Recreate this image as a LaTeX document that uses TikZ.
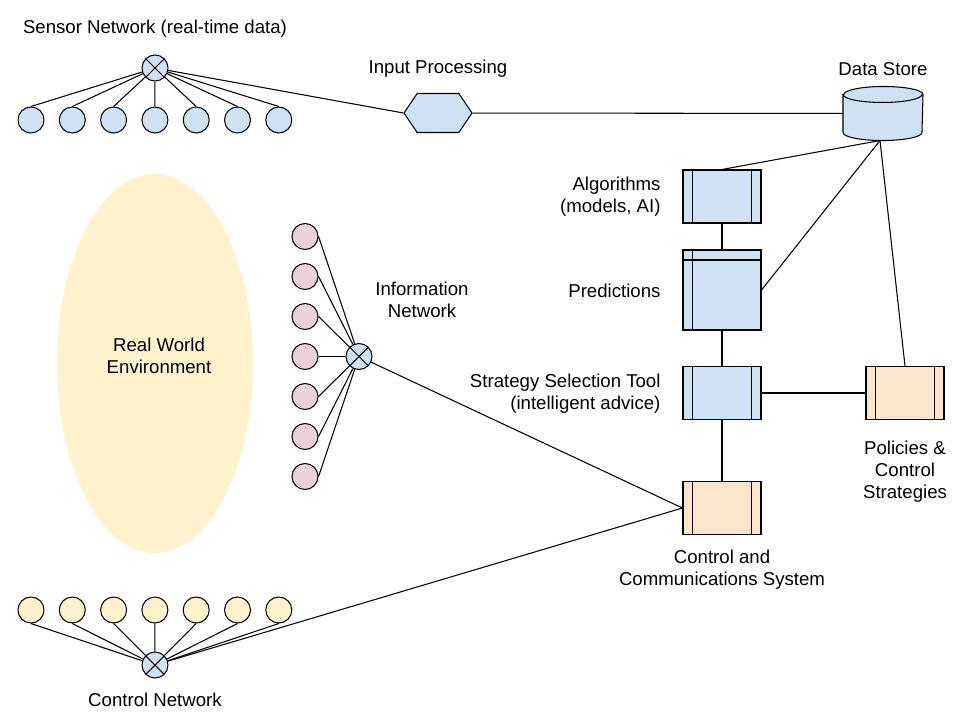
\documentclass[tikz,border=0pt]{standalone}
\usepackage{fontspec}
\setmainfont{Liberation Sans}
\usetikzlibrary{shapes.geometric, shapes.symbols}

\definecolor{boxblue}{HTML}{CFE2F3}
\definecolor{boxorange}{HTML}{FCE5CD}
\definecolor{dotpink}{HTML}{EAD1DC}
\definecolor{dotyellow}{HTML}{FFF2CC}

\tikzset{
  dot/.style={circle, draw, minimum size=0.52cm, inner sep=0pt},
  hub/.style={dot, fill=boxblue,
    path picture={
      \draw (path picture bounding box.north west) -- (path picture bounding box.south east);
      \draw (path picture bounding box.south west) -- (path picture bounding box.north east);
    }},
  procbox/.style={rectangle, draw, minimum width=1.56cm, minimum height=1.06cm, inner sep=0pt,
    path picture={
      \draw ([xshift=0.19cm]path picture bounding box.north west) -- ([xshift=0.19cm]path picture bounding box.south west);
      \draw ([xshift=-0.19cm]path picture bounding box.north east) -- ([xshift=-0.19cm]path picture bounding box.south east);
    }},
  storebox/.style={rectangle, draw, minimum width=1.56cm, minimum height=1.6cm, inner sep=0pt,
    path picture={
      \draw ([xshift=0.19cm]path picture bounding box.north west) -- ([xshift=0.19cm]path picture bounding box.south west);
      \draw ([yshift=-0.2cm]path picture bounding box.north west) -- ([yshift=-0.2cm]path picture bounding box.north east);
    }},
  lbl/.style={font=\fontsize{10.6pt}{12.6pt}\selectfont, inner sep=0pt},
}

\begin{document}
\begin{tikzpicture}[x=0.02cm, y=-0.02cm, line width=0.6pt]

    % Frame (pixel units, y down)
    \useasboundingbox (0,0) rectangle (960,720);

    \def\dotx{31}     % first dot, x
    \def\dotdx{41.3}  % dot spacing, x
    \def\infox{305}   % information dots, x
    \def\infoy{236.5} % first information dot, y
    \def\infody{40}   % dot spacing, y
    \def\cylrx{0.79cm} % data store, half width
    \def\cylry{0.16cm} % data store, lid

    % Real world
    \fill[dotyellow] (155,363.5) ellipse [x radius=1.96cm, y radius=3.79cm];
    \node[lbl, align=center] (world) at (159,356) {Real World\\Environment};

    % Sensor network
    \node[hub] (shub) at (155,68) {};
    \foreach \i in {0,...,6}{
        \node[dot, fill=boxblue] (s\i) at ({\dotx+\dotdx*\i},120) {};
        \draw (s\i.north) -- (shub);
    }
    \node[lbl] (slbl) at (155,29) {Sensor Network (real-time data)};

    % Input processing, data store
    \node[signal, signal to=west and east, signal pointer angle=112, draw, fill=boxblue,
          minimum width=1.36cm, minimum height=0.78cm, inner sep=0pt] (inproc) at (438,113) {};
    \node[lbl] (inlbl) at (438,69) {Input Processing};
    \node[rectangle, minimum width=1.58cm, minimum height=1.06cm, inner sep=0pt] (store) at (883,113.5) {};
    \filldraw[fill=boxblue] ([yshift=-\cylry]store.north west) -- ([yshift=\cylry]store.south west)
        arc[start angle=180, end angle=360, x radius=\cylrx, y radius=\cylry]
        -- ([yshift=-\cylry]store.north east)
        arc[start angle=0, end angle=180, x radius=\cylrx, y radius=\cylry] -- cycle;
    \draw ([yshift=-\cylry]store.north west) arc[start angle=180, end angle=360, x radius=\cylrx, y radius=\cylry];
    \node[lbl] (storelbl) at (883,69) {Data Store};

    \draw (shub) -- (inproc.west);
    \draw (inproc) -- (store);

    % Decision chain
    \node[procbox, fill=boxblue] (alg) at (722,196.5) {};
    \node[storebox, fill=boxblue] (pred) at (722,290) {};
    \node[procbox, fill=boxblue] (sst) at (722,393) {};
    \node[procbox, fill=boxorange] (ctrl) at (722,508) {};
    \node[procbox, fill=boxorange] (pol) at (905,393) {};

    \node[lbl, align=right, anchor=east] (alglbl) at (661,197) {Algorithms\\(models, AI)};
    \node[lbl, anchor=east] (predlbl) at (661,291) {Predictions};
    \node[lbl, align=right, anchor=east] (sstlbl) at (661,394) {Strategy Selection Tool\\(intelligent advice)};
    \node[lbl, align=center] (ctrllbl) at (722,570) {Control and\\Communications System};
    \node[lbl, align=center] (pollbl) at (905,472) {Policies \&\\Control\\Strategies};

    \draw (alg) -- (pred);
    \draw (pred) -- (sst);
    \draw (sst) -- (ctrl);
    \draw (sst) -- (pol);
    \draw ([xshift=-0.06cm]store.south) -- (alg.north);
    \draw ([xshift=-0.06cm]store.south) -- (pred.east);
    \draw ([xshift=-0.06cm]store.south) -- (pol.north);

    % Information network
    \node[hub] (ihub) at (359,356.5) {};
    \foreach \i in {0,...,6}{
        \node[dot, fill=dotpink] (i\i) at (\infox,{\infoy+\infody*\i}) {};
        \draw (i\i.east) -- (ihub);
    }
    \node[lbl, align=center] (ilbl) at (422,300) {Information\\Network};
    \draw (ihub) -- (ctrl.west);

    % Control network
    \node[hub] (chub) at (155,665) {};
    \foreach \i in {0,...,6}{
        \node[dot, fill=dotyellow] (c\i) at ({\dotx+\dotdx*\i},610) {};
        \draw (c\i.south) -- (chub);
    }
    \node[lbl] (clbl) at (155,700) {Control Network};
    \draw (chub) -- (ctrl.west);

\end{tikzpicture}
\end{document}
